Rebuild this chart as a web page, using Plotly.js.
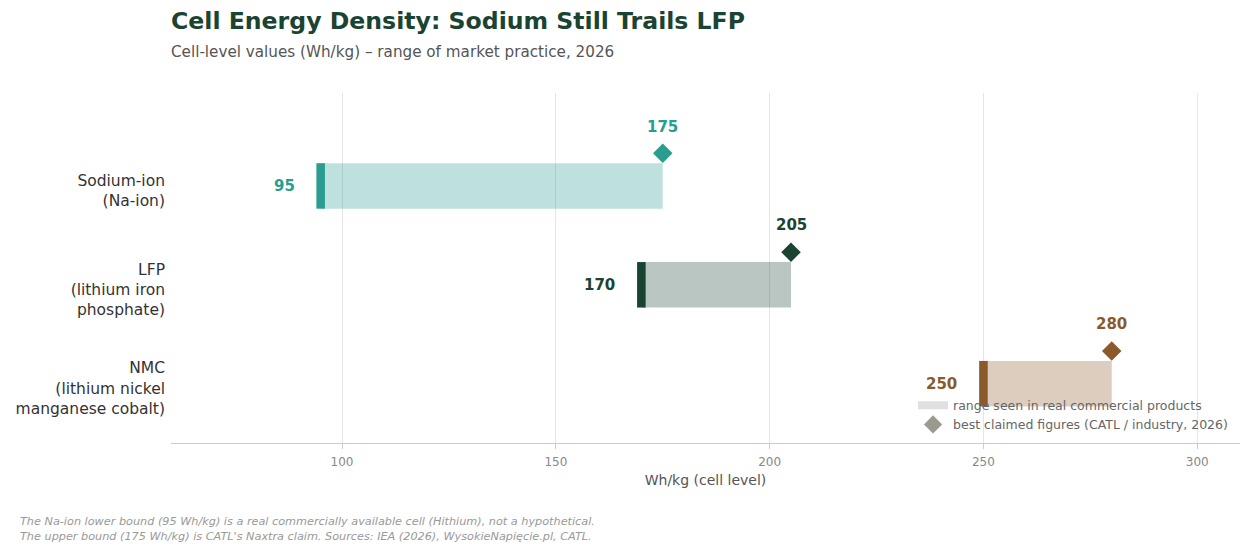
<!DOCTYPE html>
<html>
<head>
<meta charset="utf-8">
<script src="https://cdn.plot.ly/plotly-3.0.1.min.js"></script>
<style>
  html, body { margin: 0; padding: 0; background: #fff; }
  #chart { width: 1255px; height: 558px; }
</style>
</head>
<body>
<div id="chart"></div>
<script>
const chemistries = ["Sodium-ion<br>(Na-ion)", "LFP<br>(lithium iron<br>phosphate)", "NMC<br>(lithium nickel<br>manganese cobalt)"];
const rowPos = [2, 1, 0];
const lowValues = [95, 170, 250];
const highValues = [175, 205, 280];
const darkColors = ["#2a9d8f", "#1b4332", "#8b5a2b"];
const lightColors = ["rgba(42,157,143,0.3)", "rgba(27,67,50,0.3)", "rgba(139,90,43,0.3)"];

const font = "DejaVu Sans, Verdana, sans-serif";

// range bar (low -> high)
const rangeBars = {
  type: "bar",
  orientation: "h",
  y: rowPos,
  base: lowValues,
  x: highValues.map((h, i) => h - lowValues[i]),
  width: 0.46,
  marker: { color: lightColors, line: { width: 0 } },
  showlegend: false,
  hoverinfo: "skip",
};

// thick tick at the lower bound
const lowTicks = {
  type: "bar",
  orientation: "h",
  y: rowPos,
  base: lowValues.map((v) => v - 1),
  x: lowValues.map(() => 2),
  width: 0.46,
  marker: { color: darkColors, line: { width: 0 } },
  showlegend: false,
  hoverinfo: "skip",
};

const claims = {
  type: "scatter",
  mode: "markers",
  x: highValues,
  y: rowPos.map((p) => p + 0.33),
  marker: { symbol: "diamond", size: 15, color: darkColors },
  showlegend: false,
  hoverinfo: "skip",
};

const legendRange = {
  type: "scatter",
  mode: "lines",
  x: [null],
  y: [null],
  name: "range seen in real commercial products",
  line: { color: "#e0e0e0", width: 8 },
};

const legendClaim = {
  type: "scatter",
  mode: "markers",
  x: [null],
  y: [null],
  name: "best claimed figures (CATL / industry, 2026)",
  marker: { symbol: "diamond", size: 14, color: "#9a9a90" },
};

const annotations = [];
chemistries.forEach((c, i) => {
  annotations.push({
    x: highValues[i], y: rowPos[i] + 0.6, xref: "x", yref: "y",
    text: "<b>" + highValues[i] + "</b>", showarrow: false,
    font: { family: font, size: 15, color: darkColors[i] },
    xanchor: "center", yanchor: "middle",
  });
  annotations.push({
    x: lowValues[i], y: rowPos[i], xref: "x", yref: "y",
    text: "<b>" + lowValues[i] + "</b>", showarrow: false,
    font: { family: font, size: 15, color: darkColors[i] },
    xanchor: "right", yanchor: "middle", xshift: -24,
  });
});

annotations.push({
  xref: "paper", yref: "paper", x: 0, y: 1.117, xshift: -2,
  xanchor: "left", yanchor: "middle", showarrow: false,
  text: "Cell-level values (Wh/kg) – range of market practice, 2026",
  font: { family: font, size: 15.2, color: "#555555" },
});

annotations.push({
  xref: "paper", yref: "paper", x: -0.1413, y: -0.247, xshift: -2,
  xanchor: "left", yanchor: "middle", align: "left", showarrow: false,
  text: "<i>The Na-ion lower bound (95 Wh/kg) is a real commercially available cell (Hithium), not a hypothetical.<br>The upper bound (175 Wh/kg) is CATL's Naxtra claim. Sources: IEA (2026), WysokieNapięcie.pl, CATL.</i>",
  font: { family: font, size: 11.25, color: "#999999" },
});

const layout = {
  width: 1255,
  height: 558,
  margin: { l: 171, r: 15, t: 93, b: 115 },
  paper_bgcolor: "#ffffff",
  plot_bgcolor: "#ffffff",
  font: { family: font, color: "#333333" },
  barmode: "overlay",
  title: {
    text: "<b>Cell Energy Density: Sodium Still Trails LFP</b>",
    x: 171 / 1255, xanchor: "left", xref: "container",
    y: 1 - 21 / 558, yanchor: "middle", yref: "container",
    font: { family: font, size: 23.6, color: "#1b4332" },
  },
  xaxis: {
    range: [60, 310],
    tickvals: [100, 150, 200, 250, 300],
    showgrid: true,
    gridcolor: "#e6e6e6",
    gridwidth: 1,
    zeroline: false,
    showline: true,
    linecolor: "#cccccc",
    linewidth: 1,
    ticks: "outside",
    ticklen: 5,
    tickcolor: "#cccccc",
    ticklabelstandoff: 3,
    tickfont: { family: font, size: 12, color: "#888888" },
    title: { text: "Wh/kg (cell level)", font: { family: font, size: 14, color: "#555555" }, standoff: 6 },
  },
  yaxis: {
    range: [-0.6, 2.94],
    // labels sit a few px below the bar centre, as in the original
    tickvals: rowPos.map((p) => p - 0.045),
    ticktext: chemistries,
    showgrid: false,
    zeroline: false,
    showline: false,
    ticks: "",
    ticklabelstandoff: 5,
    tickfont: { family: font, size: 15.5, color: "#333333" },
  },
  legend: {
    x: 0.9935, xanchor: "right", y: 0.01, yanchor: "bottom",
    bgcolor: "rgba(255,255,255,0)",
    font: { family: font, size: 12.5, color: "#666666" },
    tracegroupgap: 0,
    itemwidth: 30,
  },
  annotations: annotations,
};

Plotly.newPlot("chart", [rangeBars, lowTicks, claims, legendRange, legendClaim], layout, { displayModeBar: false, staticPlot: true });
</script>
</body>
</html>
